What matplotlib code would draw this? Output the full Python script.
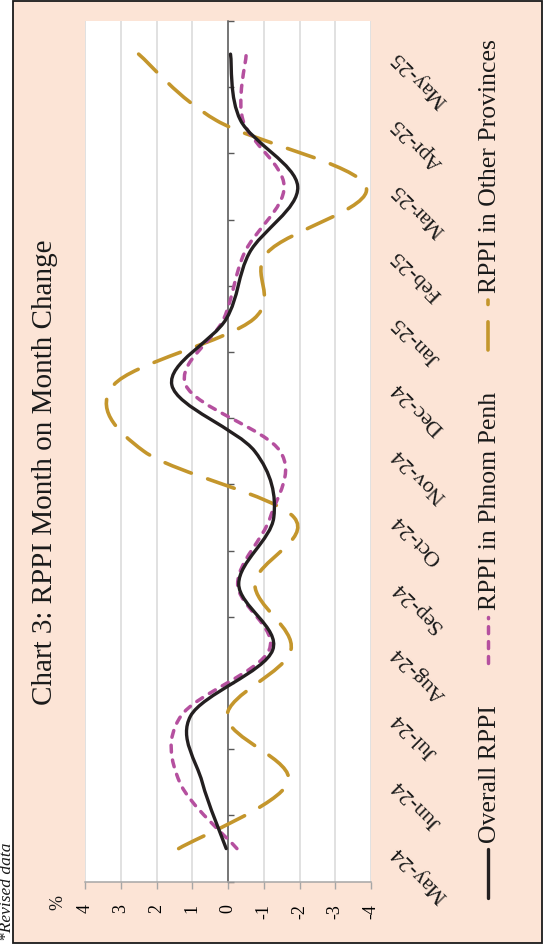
import matplotlib
matplotlib.use("Agg")
import matplotlib.pyplot as plt
from matplotlib.path import Path
from matplotlib.patches import PathPatch, Rectangle
from matplotlib.lines import Line2D

# data (month-on-month change, %)
months = ["May-24", "Jun-24", "Jul-24", "Aug-24", "Sep-24", "Oct-24", "Nov-24",
          "Dec-24", "Jan-25", "Feb-25", "Mar-25", "Apr-25", "May-25"]
overall = [0.05, 0.72, 1.05, -1.25, -0.30, -1.28, -0.75, 1.57, 0.05, -0.60, -1.95, -0.35, -0.07]
phnom_penh = [-0.25, 1.35, 1.32, -1.15, -0.27, -1.18, -1.46, 1.18, 0.12, -0.46, -1.57, -0.42, -0.51]
other_prov = [1.38, -1.68, 0.03, -1.76, -0.75, -1.85, 2.35, 3.20, -0.72, -1.10, -3.86, 0.33, 2.50]
value_ticks = [4, 3, 2, 1, 0, -1, -2, -3, -4]

plt.rcParams['font.family'] = ['Liberation Serif', 'DejaVu Serif']

W, H = 546, 944


def fx(px):
    return px / W


def fy(py):
    return 1 - py / H


def smooth_path(vals):
    # Excel-like smoothed line (Catmull-Rom as cubic Bezier)
    pts = [(v, i) for i, v in enumerate(vals)]
    n = len(pts)
    verts = [pts[0]]
    codes = [Path.MOVETO]
    for i in range(n - 1):
        p0 = pts[max(i - 1, 0)]
        p1 = pts[i]
        p2 = pts[i + 1]
        p3 = pts[min(i + 2, n - 1)]
        c1 = (p1[0] + (p2[0] - p0[0]) / 6, p1[1] + (p2[1] - p0[1]) / 6)
        c2 = (p2[0] - (p3[0] - p1[0]) / 6, p2[1] - (p3[1] - p1[1]) / 6)
        verts += [c1, c2, p2]
        codes += [Path.CURVE4] * 3
    return Path(verts, codes)


fig = plt.figure(figsize=(W / 100, H / 100), dpi=100)
fig.patch.set_facecolor('white')

# peach frame
fig.add_artist(Rectangle((fx(13), fy(942.5)), fx(542) - fx(13), fy(0.5) - fy(942.5),
                         transform=fig.transFigure, facecolor='#FCE4D6',
                         edgecolor='#1a1a1a', lw=1.3, zorder=-5))

ax = fig.add_axes([fx(85), fy(881.7), fx(371) - fx(85), fy(21) - fy(881.7)])
ax.set_facecolor('white')
ax.set_xlim(4, -4)
ax.set_ylim(-0.5, len(months) - 0.5)

ax.grid(axis='x', color='#D9D9D9', lw=1.1)
ax.set_axisbelow(True)

for s in ['top', 'right']:
    ax.spines[s].set_visible(False)
ax.spines['left'].set_position(('data', 0))
ax.spines['left'].set_color('#595959')
ax.spines['left'].set_linewidth(1.1)
ax.spines['bottom'].set_color('#A6A6A6')
ax.spines['bottom'].set_linewidth(1.1)

ax.set_xticks(value_ticks)
ax.set_xticklabels([str(v) for v in value_ticks])
ax.tick_params(axis='x', direction='out', length=5, width=1, color='#A6A6A6',
               labelrotation=90, pad=11, labelsize=13)

ax.set_yticks([i - 0.5 for i in range(len(months) + 1)])
ax.set_yticklabels([])
ax.tick_params(axis='y', direction='in', length=4, width=1, color='#595959')

for i, m in enumerate(months):
    ax.annotate(m, xy=(1, i), xycoords=('axes fraction', 'data'),
                xytext=(24, 0), textcoords='offset pixels', rotation=135,
                rotation_mode='anchor', ha='right', va='center', fontsize=16,
                color='#1a1a1a')

# series
pp_dash = (0, (2.0, 2.3))
op_dash = (0, (7.8, 4.8))
styles = [
    (other_prov, '#C4962C', 2.6, op_dash),
    (phnom_penh, '#B5509F', 2.5, pp_dash),
    (overall, '#231F20', 2.4, 'solid'),
]
for vals, col, lw, ls in styles:
    p = PathPatch(smooth_path(vals), fill=False, edgecolor=col, lw=lw,
                  linestyle=ls, capstyle='round', joinstyle='round', zorder=3)
    ax.add_patch(p)

# title and notes
fig.text(fx(45.5), fy(472), 'Chart 3: RPPI Month on Month Change', rotation=90,
         ha='center', va='center', fontsize=21, color='#1a1a1a')
fig.text(fx(57.5), fy(902), '%', rotation=90, ha='center', va='center',
         fontsize=13, color='#1a1a1a')
fig.text(fx(7), fy(941), '*Revised data', rotation=90, ha='center', va='bottom',
         fontsize=12.5, style='italic', color='#1a1a1a')

# legend
legend_items = [
    ('Overall RPPI', '#231F20', 2.4, 'solid', 898, 849, 843),
    ('RPPI in Phnom Penh', '#B5509F', 2.5, pp_dash, 663, 617, 610),
    ('RPPI in Other Provinces', '#C4962C', 2.6, op_dash, 350, 300, 293),
]
for label, col, lw, ls, y0, y1, ytxt in legend_items:
    fig.add_artist(Line2D([fx(488), fx(488)], [fy(y0), fy(y1)], color=col, lw=lw,
                          linestyle=ls, dash_capstyle='round',
                          solid_capstyle='round', transform=fig.transFigure))
    fig.text(fx(490), fy(ytxt), label, rotation=90, ha='center', va='bottom',
             fontsize=18.5, color='#1a1a1a')

fig.savefig('out.png', dpi=100)
